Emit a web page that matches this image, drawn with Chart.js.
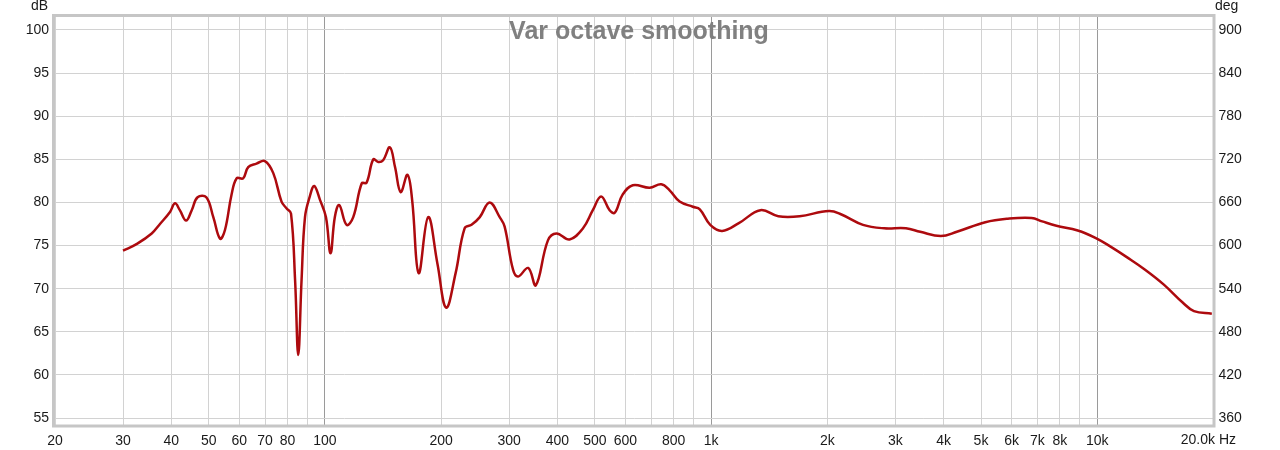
<!DOCTYPE html>
<html>
<head>
<meta charset="utf-8">
<title>Var octave smoothing</title>
<script src="https://cdn.jsdelivr.net/npm/chart.js@4"></script>
<style>
  html, body { margin: 0; padding: 0; background: #fff; }
  #wrap { width: 1280px; height: 450px; position: relative; }
</style>
</head>
<body>
<div id="wrap"><canvas id="myChart" width="1280" height="450"></canvas></div>
<script>
// frecuencias (Hz) y nivel (dB)
var freqs = [30, 32.6, 35.6, 37.4, 39.7, 40.9, 42.1, 43.7, 45.2, 46.8, 49.3, 51.4, 53.5, 55.1, 57.3, 59.1,
  61.4, 63.3, 66.5, 69.9, 73.5, 77.2, 79.6, 81.7, 83.7, 85.3, 87.0, 88.8, 91.4, 93.8, 97.1,
  100.6, 103.4, 106.1, 108.9, 113.8, 118.4, 124.5, 128.2, 133.4, 137.4, 141.5, 147.3, 151.9, 157.1,
  163.6, 168.2, 174.9, 185.1, 195.6, 206, 218, 230, 239.7, 251.8, 267, 283.5, 292, 307, 316.4,
  336, 351.7, 378, 397.7, 430, 466, 494, 519, 546, 563, 590, 627, 693, 743, 781, 829, 897, 935,
  995, 1068, 1180, 1342, 1493, 1695, 2020, 2176, 2474, 2807, 3195, 3480, 3935, 4330, 5130, 5830,
  6760, 7200, 7840, 8900, 9890, 10800, 11980, 13300, 14850, 16640, 17800, 19800];
var spl = [74.4, 75.2, 76.4, 77.5, 78.9, 79.9, 79.1, 77.9, 79.1, 80.6, 80.6, 78.3, 75.8, 76.8, 80.9, 82.8,
  82.8, 84.1, 84.5, 84.8, 83.4, 80.1, 79.3, 78.7, 71.0, 62.3, 71.0, 78.3, 80.7, 81.9, 80.3,
  78.3, 74.1, 78.3, 79.7, 77.4, 78.3, 82.2, 82.3, 85.0, 84.7, 84.9, 86.4, 84.1, 81.2,
  83.2, 80.3, 71.8, 78.3, 72.9, 67.8, 71.8, 77.0, 77.4, 78.3, 80.0, 78.3, 77.2, 72.2, 71.4,
  72.4, 70.4, 75.6, 76.4, 75.7, 77.0, 79.1, 80.7, 79.1, 78.8, 80.9, 82.0, 81.7, 82.1, 81.4, 80.1, 79.5, 79.2,
  77.4, 76.7, 77.6, 79.1, 78.4, 78.4, 79.0, 78.6, 77.4, 77.0, 77.0, 76.6, 76.1, 76.6, 77.7, 78.1,
  78.2, 77.8, 77.3, 76.75, 75.9, 74.9, 73.6, 72.2, 70.5, 68.4, 67.4, 67.1];

var xTicks = [20, 30, 40, 50, 60, 70, 80, 90, 100, 200, 300, 400, 500, 600, 700, 800, 900,
  1000, 2000, 3000, 4000, 5000, 6000, 7000, 8000, 9000, 10000, 20000];
var xTickLabels = ['20', '30', '40', '50', '60', '70', '80', '', '100', '200', '300', '400', '500', '600', '', '800', '',
  '1k', '2k', '3k', '4k', '5k', '6k', '7k', '8k', '', '10k', ''];
var dbTicks = [55, 60, 65, 70, 75, 80, 85, 90, 95, 100];
var degTicks = [360, 420, 480, 540, 600, 660, 720, 780, 840, 900];

var dbMin = 54.19, dbMax = 101.62;
var degOf = function(v) { return 360 + (v - 55) * 12; };

var FONT = 'Liberation Sans, Arial, sans-serif';
var TXT = '#1a1a1a';

var puntos = freqs.map(function(f, i) { return { x: f, y: spl[i] }; });

// marco, titulo y textos de ejes
var decorPlugin = {
  id: 'decor',
  afterDraw: function(chart) {
    var a = chart.chartArea, ctx = chart.ctx;
    ctx.save();
    ctx.strokeStyle = '#c6c6c6';
    ctx.lineWidth = 3;
    ctx.strokeRect(a.left - 1.5, a.top - 0.5, a.right - a.left + 2, a.bottom - a.top + 1.5);
    ctx.fillStyle = '#808080';
    ctx.font = 'bold 25px ' + FONT;
    ctx.textAlign = 'center';
    ctx.textBaseline = 'alphabetic';
    ctx.fillText('Var octave smoothing', 639, 39);
    ctx.fillStyle = TXT;
    ctx.font = '14px ' + FONT;
    ctx.textAlign = 'right';
    ctx.fillText('dB', 48, 10);
    ctx.fillText('20.0k', 1215, 444);
    ctx.textAlign = 'left';
    ctx.fillText('deg', 1215, 10);
    ctx.fillText('Hz', 1219, 444);
    ctx.restore();
  }
};

var ctx = document.getElementById('myChart').getContext('2d');
var myChart = new Chart(ctx, {
  type: 'line',
  data: {
    datasets: [{
      label: 'SPL',
      data: puntos,
      borderColor: '#ad0a0e',
      borderWidth: 2.5,
      pointRadius: 0,
      fill: false,
      tension: 0.4,
      yAxisID: 'y'
    }]
  },
  options: {
    responsive: false,
    animation: false,
    layout: { padding: { left: 0, right: 0, top: 16, bottom: 0 } },
    plugins: { legend: { display: false }, tooltip: { enabled: false } },
    scales: {
      x: {
        type: 'logarithmic',
        min: 20,
        max: 20000,
        afterBuildTicks: function(s) { s.ticks = xTicks.map(function(v) { return { value: v }; }); },
        afterFit: function(s) { s.height = 25; },
        grid: {
          drawTicks: false,
          color: function(c) {
            var v = c.tick ? c.tick.value : 0;
            return (v === 100 || v === 1000 || v === 10000) ? '#9a9a9a' : '#d2d2d2';
          }
        },
        border: { display: false },
        ticks: {
          autoSkip: false,
          maxRotation: 0,
          padding: 8,
          color: TXT,
          font: { family: FONT, size: 14 },
          callback: function(v, i) { return xTickLabels[i]; }
        }
      },
      y: {
        position: 'left',
        min: dbMin,
        max: dbMax,
        afterBuildTicks: function(s) { s.ticks = dbTicks.map(function(v) { return { value: v }; }); },
        afterFit: function(s) { s.width = 55; },
        grid: { drawTicks: false, color: '#d2d2d2' },
        border: { display: false },
        ticks: { padding: 6, color: TXT, font: { family: FONT, size: 14 } }
      },
      y2: {
        position: 'right',
        min: degOf(dbMin),
        max: degOf(dbMax),
        afterBuildTicks: function(s) { s.ticks = degTicks.map(function(v) { return { value: v }; }); },
        afterFit: function(s) { s.width = 66.5; },
        grid: { display: false, drawTicks: false },
        border: { display: false },
        ticks: { padding: 5, color: TXT, font: { family: FONT, size: 14 } }
      }
    }
  },
  plugins: [decorPlugin]
});
</script>
</body>
</html>
